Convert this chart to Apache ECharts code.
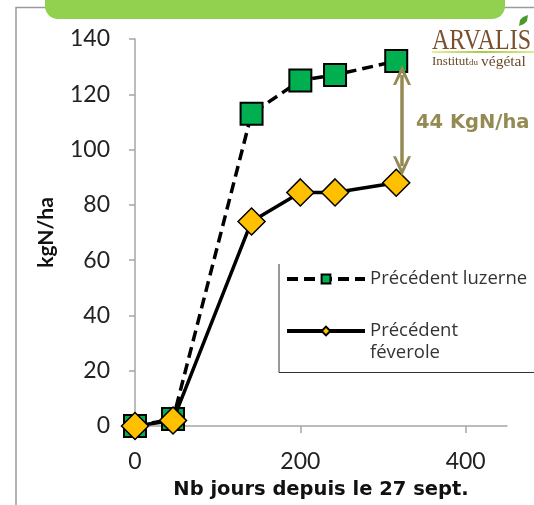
<!DOCTYPE html>
<html>
<head>
<meta charset="utf-8">
<script src="https://cdn.jsdelivr.net/npm/echarts@6/dist/echarts.min.js"></script>
<style>
html,body{margin:0;padding:0;background:#fff;}
#c{width:534px;height:505px;}
</style>
</head>
<body>
<div id="c"></div>
<script>
// Data
const days = [0, 46, 141, 200, 242, 316];
const luzerne = [0, 2.5, 113, 125, 127, 132];
const feverole = [0, 2, 74, 84.5, 84.5, 88];
const seriesNames = ['Précédent luzerne', 'Précédent féverole'];
const xTicks = [0, 200, 400];
const diffLabel = '44 KgN/ha';
const diffTop = 127;
const diffBottom = 94;
const diffX = 323;

const chart = echarts.init(document.getElementById('c'), null, {renderer: 'canvas'});
const font = 'Lato, "Open Sans", sans-serif';
const olive = '#948A54';
const chevron = 'path://M0,12 L9,0 L18,12 L15,12 L9,4.5 L3,12 Z';
const serif = '"Liberation Serif", serif';

const option = {
  backgroundColor: '#fff',
  animation: false,
  grid: {left: 135, right: 27, top: 39, bottom: 78, containLabel: false},
  xAxis: {
    type: 'value', min: 0, max: 450,
    name: 'Nb jours depuis le 27 sept.',
    nameLocation: 'middle', nameGap: 54,
    nameTextStyle: {fontFamily: '"DejaVu Sans", sans-serif', fontWeight: 'bold', fontSize: 19.5, color: '#111'},
    axisLine: {show: true, lineStyle: {color: '#a6a6a6', width: 1.5}},
    axisTick: {show: true, length: 7, customValues: xTicks, lineStyle: {color: '#a6a6a6', width: 1.5}},
    axisLabel: {customValues: xTicks, margin: 24, fontFamily: font, fontSize: 23, color: '#222'},
    splitLine: {show: false}
  },
  yAxis: {
    type: 'value', min: 0, max: 140, interval: 20,
    name: 'kgN/ha', nameLocation: 'middle', nameRotate: 90, nameGap: 78,
    nameTextStyle: {fontFamily: font, fontWeight: 'bold', fontSize: 21, color: '#111'},
    axisLine: {show: true, lineStyle: {color: '#a6a6a6', width: 1.5}},
    axisTick: {show: true, length: 6, lineStyle: {color: '#a6a6a6', width: 1.5}},
    axisLabel: {margin: 25, fontFamily: font, fontSize: 23, color: '#222'},
    splitLine: {show: false}
  },
  legend: {
    orient: 'vertical', left: 280, top: 263, itemWidth: 78, itemHeight: 11, itemGap: 8,
    lineStyle: {width: 4},
    textStyle: {fontFamily: '"Open Sans", sans-serif', fontSize: 18.5, color: '#333', lineHeight: 22},
    formatter: n => n === seriesNames[1] ? '\nPrécédent\nféverole' : n,
    data: [seriesNames[0], seriesNames[1]]
  },
  series: [
    {
      name: seriesNames[0], type: 'line',
      data: days.map((d, i) => [d, luzerne[i]]),
      symbol: 'rect', symbolSize: 22,
      itemStyle: {color: '#00B050', borderColor: '#000', borderWidth: 2},
      lineStyle: {color: '#000', width: 3.5, type: [11, 6]},
      z: 2,
      markLine: {
        silent: true,
        symbol: [chevron, chevron],
        symbolSize: [18, 20],
        lineStyle: {color: olive, width: 3.5, type: 'solid'},
        itemStyle: {color: olive},
        label: {show: false},
        data: [[{coord: [diffX, diffTop]}, {coord: [diffX, diffBottom]}]]
      }
    },
    {
      name: seriesNames[1], type: 'line',
      data: days.map((d, i) => [d, feverole[i]]),
      symbol: 'diamond', symbolSize: 27,
      itemStyle: {color: '#FFC000', borderColor: '#000', borderWidth: 1.5},
      lineStyle: {color: '#000', width: 3.5},
      z: 3
    }
  ],
  graphic: [
    {type: 'polyline', shape: {points: [[16, 505], [16, 7.5], [534, 7.5]]}, style: {stroke: '#9a9a9a', lineWidth: 1.5, fill: null}, z: 0},
    {type: 'rect', shape: {x: 45, y: -20, width: 460, height: 39, r: 13}, style: {fill: '#92D050'}, z: 1},
    {type: 'polyline', shape: {points: [[279, 264], [279, 372.5], [534, 372.5]]}, style: {stroke: '#333', lineWidth: 1, fill: null}, z: 1},
    {type: 'text', x: 416, y: 113, style: {text: diffLabel, fontFamily: '"DejaVu Sans", sans-serif', fontWeight: 'bold', fontSize: 19.5, fill: olive, textVerticalAlign: 'top'}, z: 10},
    {type: 'text', x: 432, y: 27, scaleY: 1.22, style: {text: 'ARVALIS', fontFamily: serif, fontSize: 24, fill: '#7B4F2C', textVerticalAlign: 'top'}, z: 10},
    {type: 'rect', shape: {x: 432, y: 51, width: 102, height: 2}, style: {fill: new echarts.graphic.LinearGradient(0, 0, 1, 0, [{offset: 0, color: '#e8ef9a'}, {offset: 0.5, color: '#a5c94a'}, {offset: 1, color: '#e0ea90'}])}, z: 10},
    {type: 'text', x: 432, y: 55, style: {text: 'Institut', fontFamily: serif, fontSize: 13, fill: '#6B4A2A', textVerticalAlign: 'top'}, z: 10},
    {type: 'text', x: 469, y: 58, style: {text: 'du', fontFamily: serif, fontSize: 9, fill: '#6B4A2A', textVerticalAlign: 'top'}, z: 10},
    {type: 'text', x: 481, y: 54, style: {text: 'végétal', fontFamily: serif, fontSize: 15.5, fill: '#6B4A2A', textVerticalAlign: 'top'}, z: 10},
    {type: 'polygon', shape: {points: [[519, 26], [520, 20], [523, 17], [528, 15], [527, 21], [524, 24]]}, style: {fill: '#4C9A2A'}, z: 10}
  ]
};
chart.setOption(option);
</script>
</body>
</html>
